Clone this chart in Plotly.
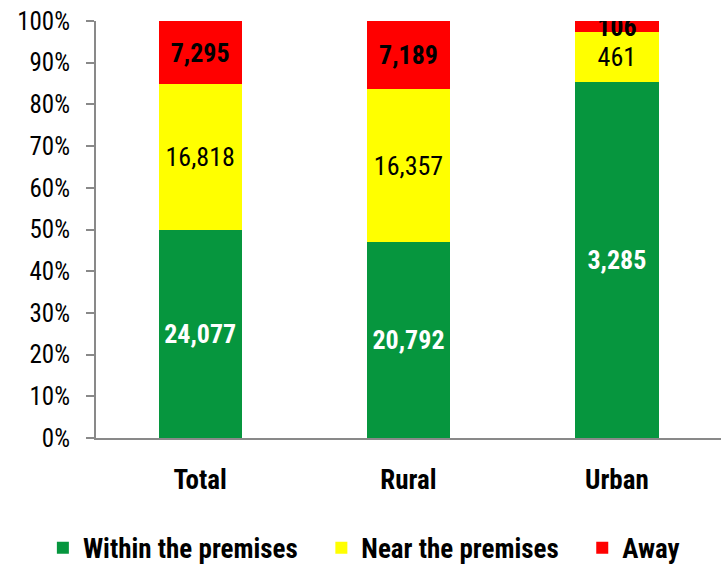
import plotly.graph_objects as go

categories = ["Total", "Rural", "Urban"]
within = [24077, 20792, 3285]
near = [16818, 16357, 461]
away = [7295, 7189, 106]

FONT = "Liberation Sans Narrow, Arial Narrow, Roboto Condensed, sans-serif"
NB = "\u00a0"

fig = go.Figure()
series = [
    ("Within the premises", within, "#06963E", "white", True, NB * 3),
    ("Near the premises", near, "#FFFF00", "black", False, NB * 3),
    ("Away", away, "#FF0000", "black", True, ""),
]
for name, vals, color, tcolor, bold, pad in series:
    fig.add_trace(go.Bar(
        name="<b>" + name + "</b>" + pad, x=categories, y=vals, marker_color=color,
        marker_line_width=0,
        text=vals,
        texttemplate=("<b>%{text:,}</b>" if bold else "%{text:,}"),
        textposition="inside", insidetextanchor="middle", textangle=0,
        textfont=dict(color=tcolor, size=26, family=FONT),
        hoverinfo="skip",
    ))

fig.update_layout(
    barmode="stack", barnorm="percent", bargap=0.6,
    width=723, height=566,
    margin=dict(l=96, r=2, t=21, b=128, autoexpand=False),
    plot_bgcolor="white", paper_bgcolor="white",
    font=dict(family=FONT, color="black"),
    uniformtext=dict(minsize=26, mode="show"),
    showlegend=True,
    legend=dict(orientation="h", x=-0.085, xanchor="left",
                y=-0.264, yanchor="middle",
                font=dict(size=27, family=FONT), traceorder="normal",
                itemwidth=30),
)
fig.update_yaxes(range=[0, 100], dtick=10, ticksuffix="%", showgrid=False,
                 showline=True, linecolor="#898989", linewidth=2,
                 ticks="outside", ticklen=8, tickcolor="#898989", tickwidth=2,
                 tickfont=dict(size=25, family=FONT), zeroline=False,
                 automargin=False, ticklabelstandoff=11)
fig.update_xaxes(showline=True, linecolor="#898989", linewidth=2,
                 tickfont=dict(size=27, family=FONT), ticks="",
                 tickprefix="<b>", ticksuffix="</b>", automargin=False,
                 ticklabelstandoff=17)
fig.write_html("out.html", config={"displayModeBar": False},
               post_script="document.body.style.margin='0';")
